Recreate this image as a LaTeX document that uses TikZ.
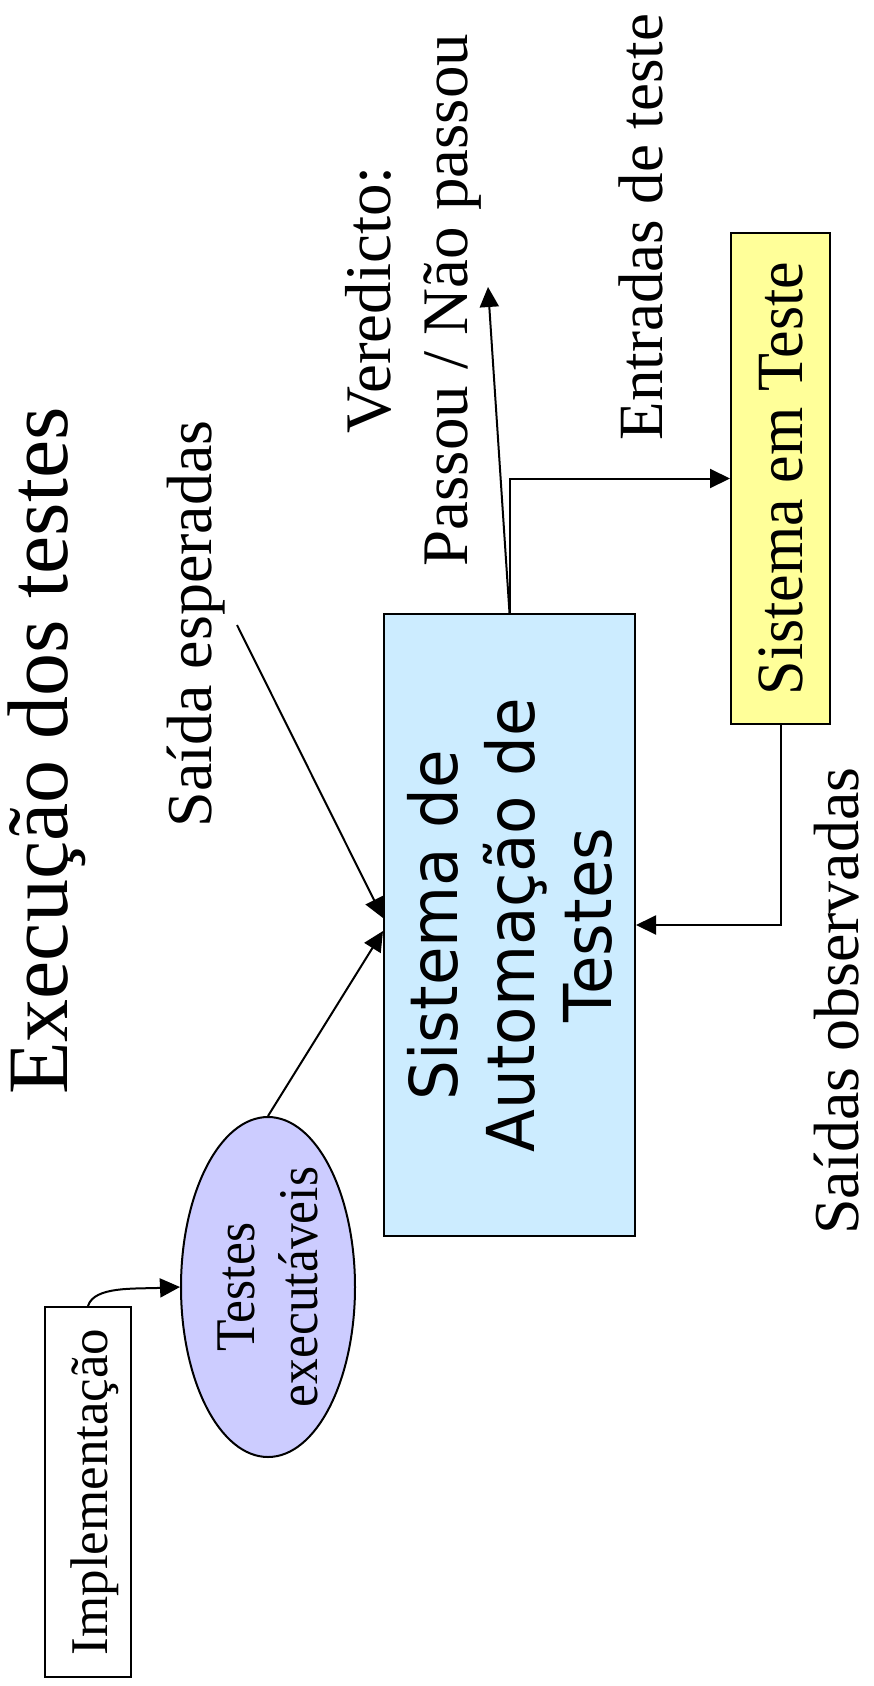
\documentclass[tikz,border=0pt]{standalone}
\usepackage{fontspec}
\setmainfont{Liberation Serif}
\newfontfamily\satfont{DejaVu Sans}[FakeStretch=0.95]
\newfontfamily\ellfont{Liberation Serif}[FakeStretch=0.92]
\newfontfamily\sutfont{Liberation Serif}[FakeStretch=0.94]
\usetikzlibrary{shapes.geometric,arrows.meta}

\definecolor{satblue}{HTML}{CCECFF}
\definecolor{sutyellow}{HTML}{FFFF99}
\definecolor{ellblue}{HTML}{CCCCFF}

\begin{document}
\begin{tikzpicture}[x=1pt,y=-1pt,
  line width=2pt,
  arr/.style={-{Triangle[length=20pt,width=19pt]}},
  lbl/.style={rotate=90, inner sep=0pt, align=center},
  boxnode/.style={rotate=90, draw=black, inner sep=0pt, align=center},
]
\useasboundingbox (0,0) rectangle (873,1686);

% headline and free labels (all set reading upwards)
\node[lbl, anchor=base, font=\fontsize{86}{99}\selectfont] (title) at (67,751) {Execução dos testes};
\node[lbl, anchor=base, font=\fontsize{64}{75}\selectfont] (sai) at (211,624) {Saída esperadas};
\node[lbl, font=\fontsize{65}{77}\selectfont] (verd) at (413.5,300) {Veredicto:\\Passou / Não passou};
\node[lbl, anchor=base, font=\fontsize{63}{75}\selectfont] (entr) at (662,227) {Entradas de teste};
\node[lbl, anchor=base, font=\fontsize{64}{75}\selectfont] (obs) at (858,1001) {Saídas observadas};

% blocks
\node[boxnode, fill=satblue, minimum width=622pt, minimum height=251pt,
      font=\satfont\fontsize{66}{77}\selectfont] (sat) at (509.5,925)
      {Sistema de\\Automação de\\Testes};
\node[boxnode, fill=sutyellow, minimum width=491pt, minimum height=99pt,
      font=\sutfont\fontsize{66}{77}\selectfont] (sut) at (780.5,478.5)
      {Sistema em Teste};
\node[boxnode, ellipse, fill=ellblue, minimum width=340pt, minimum height=174pt,
      font=\ellfont\fontsize{56}{63}\selectfont] (ell) at (268,1287)
      {Testes\\executáveis};
\node[boxnode, fill=white, minimum width=370pt, minimum height=86pt,
      text height=42pt, text depth=4pt,
      font=\fontsize{53}{62}\selectfont] (impl) at (88,1492)
      {Implementação};

% loose ends of connectors
\coordinate (saiend) at (237,625);
\coordinate (verdtip) at (488,287);

% connectors
\draw[arr] (impl.east) .. controls +(6,-20) and +(-45,2) .. (ell.north);
\draw[arr] (ell.east) -- ([yshift=-6pt]sat.north);
\draw[arr] (saiend) -- ([yshift=7pt]sat.north);
\draw[arr] (sat.east) -- (verdtip);
\draw[arr] (sat.east) |- (sut.north);
\draw[arr] (sut.west) |- (sat.south);
\end{tikzpicture}
\end{document}
